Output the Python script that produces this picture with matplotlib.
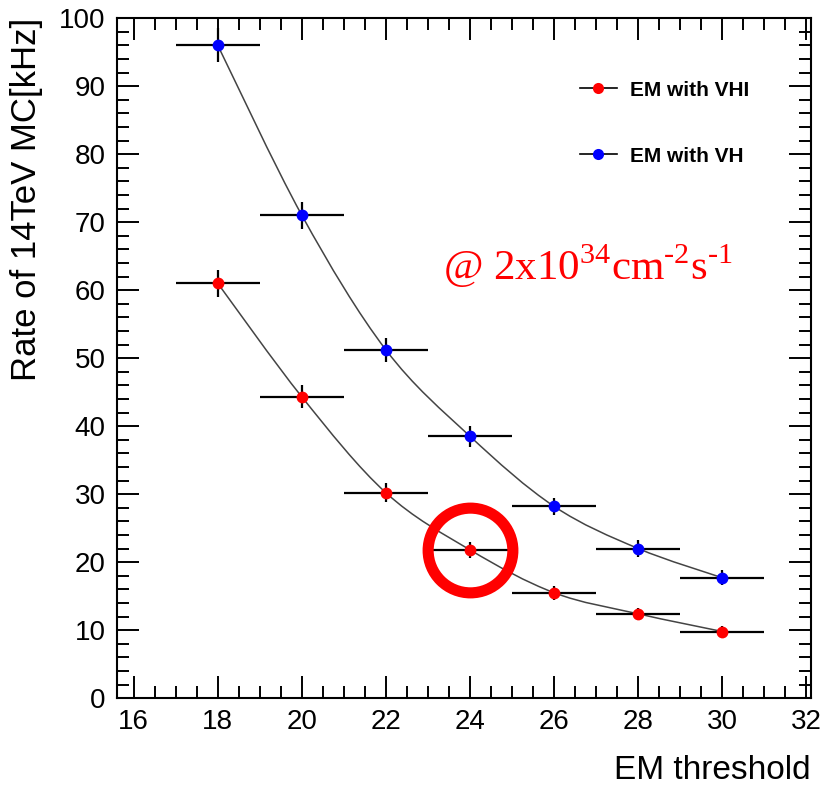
import matplotlib.pyplot as plt
from matplotlib.path import Path
from matplotlib.patches import PathPatch
from matplotlib.lines import Line2D
from matplotlib.ticker import MultipleLocator
import numpy as np

plt.rcParams['font.family'] = ['Liberation Sans', 'DejaVu Sans']
plt.rcParams['mathtext.fontset'] = 'custom'
plt.rcParams['mathtext.rm'] = 'Liberation Serif'

# Data
thresholds = [18, 20, 22, 24, 26, 28, 30]
x_err = [1, 1, 1, 1, 1, 1, 1]
rate_vh = [96.0, 71.0, 51.2, 38.5, 28.2, 22.0, 17.7]
err_vh = [2.5, 2.0, 1.8, 1.5, 1.3, 1.2, 1.1]
rate_vhi = [61.0, 44.3, 30.2, 21.8, 15.5, 12.4, 9.8]
err_vhi = [2.0, 1.7, 1.4, 1.2, 1.0, 0.9, 0.8]
labels = ['EM with VHI', 'EM with VH']


def smooth_path(x, y):
    # Catmull-Rom curve through the points, drawn as cubic Bezier segments
    p = np.column_stack([x, y]).astype(float)
    pts = np.vstack([p[0], p, p[-1]])
    verts = [p[0]]
    codes = [Path.MOVETO]
    for i in range(1, len(pts) - 2):
        c1 = pts[i] + (pts[i + 1] - pts[i - 1]) / 6
        c2 = pts[i + 1] - (pts[i + 2] - pts[i]) / 6
        verts += [c1, c2, pts[i + 1]]
        codes += [Path.CURVE4] * 3
    return Path(verts, codes)


fig = plt.figure(figsize=(8.23, 7.88), dpi=100)
ax = fig.add_axes([0.142, 0.114, 0.843, 0.863])

for rates, errs, col in [(rate_vh, err_vh, 'blue'), (rate_vhi, err_vhi, 'red')]:
    ax.add_patch(PathPatch(smooth_path(thresholds, rates), fill=False,
                           edgecolor='#444444', lw=1.1, zorder=2))
    ax.errorbar(thresholds, rates, xerr=x_err, yerr=errs, fmt='none',
                ecolor='black', elinewidth=1.6, capsize=0, zorder=3)
    ax.plot(thresholds, rates, 'o', color=col, markersize=8.5,
            markeredgewidth=0, zorder=4)

# highlight circle
ax.plot([24], [21.8], 'o', markersize=61, markerfacecolor='none',
        markeredgecolor='red', markeredgewidth=8, zorder=5)

ax.text(0.47, 0.615, '@ 2x10$^{34}$cm$^{\u20102}$s$^{\u20101}$',
        transform=ax.transAxes, va='baseline',
        color='red', fontsize=31, family='Liberation Serif')

ax.set_xlim(15.6, 32.1)
ax.set_ylim(0, 100)
ax.xaxis.set_major_locator(MultipleLocator(2))
ax.xaxis.set_minor_locator(MultipleLocator(0.5))
ax.yaxis.set_major_locator(MultipleLocator(10))
ax.yaxis.set_minor_locator(MultipleLocator(2))
ax.tick_params(which='both', direction='in', top=True, right=True, width=1.4)
ax.tick_params(which='major', length=16, labelsize=20, pad=8)
ax.tick_params(which='minor', length=8.5)
for s in ax.spines.values():
    s.set_linewidth(1.5)

ax.set_xlabel('EM threshold', fontsize=24, loc='right', labelpad=14)
ax.set_ylabel('Rate of 14TeV MC[kHz]', fontsize=25, loc='top', labelpad=12)

handles = [Line2D([], [], color='black', lw=1.2, marker='o', markersize=8,
                  markerfacecolor=c, markeredgewidth=0) for c in ['red', 'blue']]
ax.legend(handles, labels, loc='upper left', bbox_to_anchor=(0.667, 0.908),
          frameon=False, borderpad=0, borderaxespad=0, handlelength=1.8,
          handletextpad=0.6, labelspacing=2.25,
          prop={'weight': 'bold', 'size': 15})

plt.savefig('out.png', dpi=100)
